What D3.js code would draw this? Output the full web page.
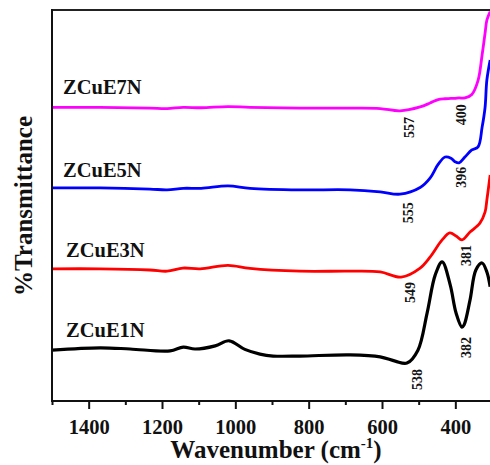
<!DOCTYPE html>
<html>
<head>
<meta charset="utf-8">
<script src="https://cdn.jsdelivr.net/npm/d3@7"></script>
<style>
  html, body { margin: 0; padding: 0; background: #fff; }
  svg { display: block; }
  text { font-family: "Liberation Serif", "Times New Roman", serif; font-weight: bold; fill: #111; }
</style>
</head>
<body>
<svg id="chart" width="490" height="465"></svg>
<script>
// FTIR spectra (wavenumber in cm^-1, transmittance in stacked arbitrary units)
const wavenumbersE1N = [1500, 1369, 1287, 1178, 1142, 1110, 1055, 1017, 974, 933, 897, 824, 687, 605, 564, 532, 502, 477, 455, 436, 414, 398, 382, 376, 360, 344, 327, 314, 305];
const seriesE1N = [13.0, 13.6, 13.3, 12.8, 13.8, 13.3, 14.1, 15.4, 13.2, 12.0, 11.5, 11.5, 11.8, 11.3, 10.2, 9.7, 13.0, 22.5, 32.2, 35.6, 29.7, 22.5, 18.9, 19.5, 25.8, 33.5, 35.3, 33.0, 29.2];

const wavenumbersE3N = [1500, 1369, 1233, 1186, 1143, 1096, 1020, 960, 824, 687, 605, 548, 496, 469, 436, 415, 398, 382, 360, 333, 319, 314, 305];
const seriesE3N = [33.8, 33.8, 33.5, 33.2, 34.0, 33.8, 34.7, 33.9, 33.2, 33.2, 33.0, 31.7, 34.0, 36.8, 41.2, 43.0, 42.2, 41.2, 43.2, 45.5, 48.3, 51.4, 57.8];

const wavenumbersE57N = [1500, 1369, 1233, 1186, 1142, 1093, 1020, 960, 824, 687, 605, 551, 496, 469, 447, 428, 412, 401, 390, 374, 355, 338, 327, 319, 314, 305];
const seriesE5N = [54.5, 54.5, 54.2, 54.0, 54.4, 54.4, 55.0, 54.4, 54.0, 54.0, 53.5, 52.9, 54.6, 57.0, 60.5, 62.4, 62.1, 61.2, 60.9, 62.4, 64.2, 65.0, 70.0, 75.0, 82.1, 87.2];
const seriesE7N = [75.1, 75.1, 74.9, 74.8, 75.1, 75.0, 75.3, 75.1, 74.9, 74.9, 74.8, 74.2, 75.2, 76.2, 77.1, 77.3, 77.4, 77.4, 77.5, 77.5, 78.4, 82.0, 88.5, 94.0, 97.4, 99.6];

const seriesNames = ["ZCuE1N", "ZCuE3N", "ZCuE5N", "ZCuE7N"];
const seriesColors = ["#000000", "#ff0000", "#0000ff", "#ff00ff"];

// Band positions marked on each spectrum
const peakLabels = ["538", "382", "549", "381", "555", "396", "557", "400"];
const peakSeries = ["ZCuE1N", "ZCuE1N", "ZCuE3N", "ZCuE3N", "ZCuE5N", "ZCuE5N", "ZCuE7N", "ZCuE7N"];

const xMajorTicks = [1400, 1200, 1000, 800, 600, 400];
const xMinorTicks = [1500, 1300, 1100, 900, 700, 500, 300];

const xTitle = "Wavenumber (cm";
const yTitle = "%Transmittance";

// ---- layout ----
const svg = d3.select("#chart");
const plotLeft = 52, plotRight = 492, plotTop = 10, plotBottom = 401;

const x = d3.scaleLinear().domain([1500, 300]).range([plotLeft, plotRight]);
const y = d3.scaleLinear().domain([0, 100]).range([plotBottom, plotTop]);

const series = [
  { name: seriesNames[0], color: seriesColors[0], wn: wavenumbersE1N, t: seriesE1N, width: 3.2 },
  { name: seriesNames[1], color: seriesColors[1], wn: wavenumbersE3N, t: seriesE3N, width: 2.8 },
  { name: seriesNames[2], color: seriesColors[2], wn: wavenumbersE57N, t: seriesE5N, width: 2.8 },
  { name: seriesNames[3], color: seriesColors[3], wn: wavenumbersE57N, t: seriesE7N, width: 2.8 }
];

svg.append("defs").append("clipPath").attr("id", "plot-clip")
  .append("rect").attr("x", plotLeft).attr("y", plotTop - 2)
  .attr("width", plotRight - plotLeft).attr("height", plotBottom - plotTop + 2);

const line = d3.line()
  .x(d => x(d[0]))
  .y(d => y(d[1]))
  .curve(d3.curveCatmullRom.alpha(0.5));

const plot = svg.append("g").attr("clip-path", "url(#plot-clip)");
series.forEach(s => {
  const pts = s.wn.map((w, i) => [w, s.t[i]]);
  plot.append("path")
    .datum(pts)
    .attr("fill", "none")
    .attr("stroke", s.color)
    .attr("stroke-width", s.width)
    .attr("stroke-linejoin", "round")
    .attr("d", line);
});

// ---- frame and axes ----
svg.append("line").attr("x1", plotLeft).attr("x2", 490).attr("y1", plotTop).attr("y2", plotTop)
  .attr("stroke", "#222").attr("stroke-width", 2);
svg.append("line").attr("x1", plotLeft).attr("x2", plotLeft).attr("y1", plotTop - 1).attr("y2", plotBottom + 1)
  .attr("stroke", "#111").attr("stroke-width", 2);
svg.append("line").attr("x1", plotLeft - 1).attr("x2", 490).attr("y1", plotBottom).attr("y2", plotBottom)
  .attr("stroke", "#111").attr("stroke-width", 2);

const xAxisMajor = d3.axisBottom(x).tickValues(xMajorTicks).tickSize(8).tickPadding(10).tickFormat(d3.format("d"));
const gx = svg.append("g").attr("transform", `translate(0,${plotBottom})`).call(xAxisMajor);
gx.select(".domain").remove();
gx.selectAll(".tick line").attr("stroke", "#111").attr("stroke-width", 2);
gx.selectAll(".tick text").style("font-size", "20.5px").attr("fill", "#111")
  .style("font-family", "'Liberation Serif', serif").style("font-weight", "bold");

const xAxisMinor = d3.axisBottom(x).tickValues(xMinorTicks.filter(v => x(v) < 490)).tickSize(4).tickFormat("");
const gm = svg.append("g").attr("transform", `translate(0,${plotBottom})`).call(xAxisMinor);
gm.select(".domain").remove();
gm.selectAll(".tick line").attr("stroke", "#111").attr("stroke-width", 2);

// axis titles
const xt = svg.append("text").attr("x", 276).attr("y", 458).attr("text-anchor", "middle")
  .style("font-size", "25px");
xt.append("tspan").text(xTitle);
xt.append("tspan").attr("dy", -10).style("font-size", "15px").text("-1");
xt.append("tspan").attr("dy", 10).text(")");

svg.append("text")
  .attr("transform", "translate(32,206) rotate(-90)")
  .attr("text-anchor", "middle")
  .style("font-size", "25px")
  .text(yTitle);

// series names above each spectrum
const nameOffsets = { ZCuE1N: [66, 13], ZCuE3N: [66, 12], ZCuE5N: [63, 11], ZCuE7N: [63, 13] };
series.forEach(s => {
  const [nx, dy] = nameOffsets[s.name];
  svg.append("text")
    .attr("x", nx)
    .attr("y", y(s.t[0]) - dy)
    .style("font-size", "20.5px")
    .text(s.name);
});

// rotated band labels beneath the marked minima
const labelNudge = [[12, 6], [4, 10], [9, 5], [4, 5], [10, 8], [4, 5], [11, 6], [6, 6]];
peakLabels.forEach((lab, i) => {
  const s = series.find(d => d.name === peakSeries[i]);
  const wn = +lab;
  const pts = s.wn.map((w, k) => [w, s.t[k]]);
  const nearest = d3.least(pts, p => Math.abs(p[0] - wn));
  const [dx, gap] = labelNudge[i];
  const px = x(wn) + dx;
  const py = y(nearest[1]) + gap;
  svg.append("text")
    .attr("transform", `translate(${px},${py}) rotate(-90)`)
    .attr("text-anchor", "end")
    .attr("dy", "0.35em")
    .style("font-size", "14px")
    .text(lab);
});
</script>
</body>
</html>
